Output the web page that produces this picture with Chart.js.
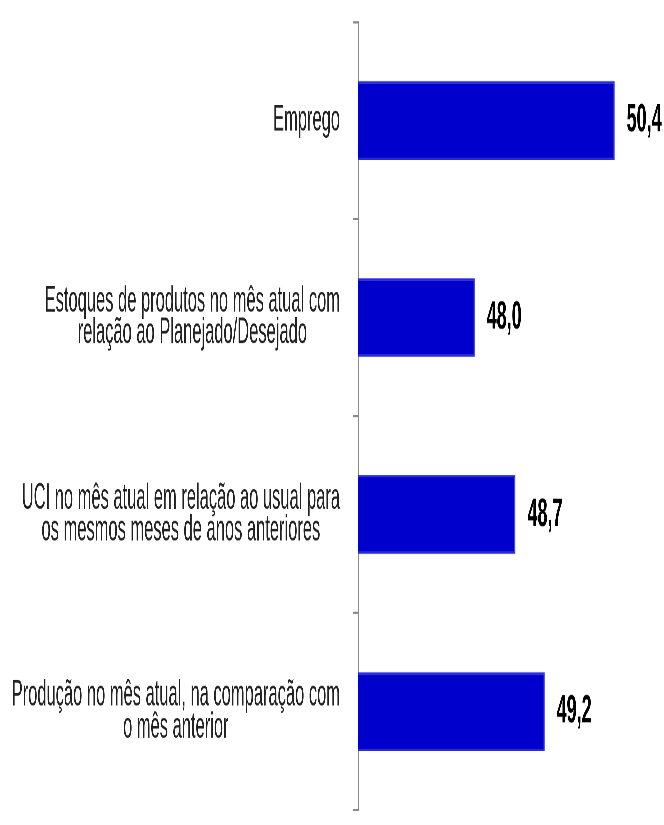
<!DOCTYPE html>
<html>
<head>
<meta charset="utf-8">
<script src="https://cdn.jsdelivr.net/npm/chart.js@4.4.1/dist/chart.umd.min.js"></script>
<style>
  html, body { margin: 0; padding: 0; background: #fff; }
  body { width: 664px; height: 825px; }
  /* the source picture is stretched vertically, so the chart is drawn flat and stretched */
  #wrap { width: 664px; height: 375px; transform: scaleY(2.2); transform-origin: 0 0; }
</style>
</head>
<body>
<div id="wrap"><canvas id="chart" width="664" height="375"></canvas></div>
<script>
// chart data
const categories = [
    ['Emprego'],
    ['Estoques de produtos no mês atual com', 'relação ao Planejado/Desejado'],
    ['UCI no mês atual em relação ao usual para', 'os mesmos meses de anos anteriores'],
    ['Produção no mês atual, na comparação com', 'o mês anterior']
];
const values = [50.4, 48.0, 48.7, 49.2];
const axisMin = 46;
const axisMax = 51;

const labelRight = 340;   // right edge of the category label blocks
const lineGap = 14.5;     // distance between label lines

// category labels: each line centred, block right-aligned next to the axis
const categoryLabels = {
    id: 'categoryLabels',
    afterDraw(chart) {
        const ctx = chart.ctx;
        const yScale = chart.scales.y;
        ctx.save();
        ctx.font = '16.5px "Liberation Sans", Arial, sans-serif';
        ctx.fillStyle = '#222';
        ctx.textAlign = 'center';
        ctx.textBaseline = 'middle';
        categories.forEach((lines, i) => {
            const cy = yScale.getPixelForValue(i);
            const widest = Math.max(...lines.map(l => ctx.measureText(l).width));
            const cx = labelRight - widest / 2;
            lines.forEach((line, j) => {
                ctx.fillText(line, cx, cy + (j - (lines.length - 1) / 2) * lineGap);
            });
        });
        ctx.restore();
    }
};

// value labels at the end of each bar
const valueLabels = {
    id: 'valueLabels',
    afterDatasetsDraw(chart) {
        const ctx = chart.ctx;
        const meta = chart.getDatasetMeta(0);
        ctx.save();
        ctx.font = 'bold 18px "Liberation Sans", Arial, sans-serif';
        ctx.fillStyle = '#000';
        ctx.textAlign = 'left';
        ctx.textBaseline = 'middle';
        meta.data.forEach((bar, i) => {
            const text = values[i].toFixed(1).replace('.', ',');
            const w = ctx.measureText(text).width;
            const x = Math.min(bar.x + 12, chart.width - w - 2);
            ctx.fillText(text, x, bar.y);
        });
        ctx.restore();
    }
};

const ctx = document.getElementById('chart').getContext('2d');
const chart = new Chart(ctx, {
    type: 'bar',
    data: {
        labels: categories.map(c => c.join(' ')),
        datasets: [{
            data: values,
            backgroundColor: 'rgb(0, 0, 204)',
            borderColor: 'rgb(40, 40, 220)',
            borderWidth: 1,
            barPercentage: 0.4,
            categoryPercentage: 1
        }]
    },
    options: {
        indexAxis: 'y',
        responsive: false,
        animation: false,
        devicePixelRatio: 3,
        layout: { padding: { left: 353, right: 14.4, top: 10, bottom: 6.8 } },
        plugins: {
            legend: { display: false },
            tooltip: { enabled: false }
        },
        scales: {
            x: {
                display: false,
                min: axisMin,
                max: axisMax
            },
            y: {
                offset: true,
                ticks: { display: false },
                grid: {
                    offset: true,
                    drawOnChartArea: false,
                    drawTicks: true,
                    tickLength: 5,
                    color: '#8a8a8a'
                },
                border: { display: true, color: '#8a8a8a', width: 1 }
            }
        }
    },
    plugins: [categoryLabels, valueLabels]
});
</script>
</body>
</html>
